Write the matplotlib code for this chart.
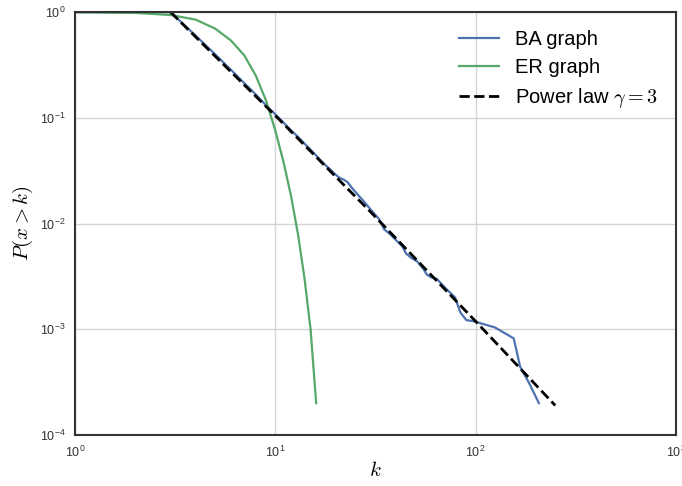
import matplotlib
matplotlib.use("Agg")
import matplotlib.pyplot as plt

plt.rcParams['font.family'] = ['Liberation Sans', 'DejaVu Sans']
plt.rcParams['mathtext.fontset'] = 'cm'

# BA graph: P(x > k)
ba_k = [1, 2, 3, 4, 5, 6, 7, 8, 9, 10, 11, 12, 13, 14, 15, 16, 17, 18, 19, 20,
        21, 22, 23, 24, 26, 28, 30, 33, 35, 37, 40, 43, 45, 48, 51, 55, 57, 60,
        64, 70, 75, 79, 84, 90, 98, 125, 155, 167, 185, 207]
ba_p = [1.0, 1.0, 1.0, 0.60, 0.40, 0.285, 0.213, 0.166, 0.131, 0.108, 0.090,
        0.076, 0.066, 0.057, 0.050, 0.044, 0.039, 0.035, 0.032, 0.029, 0.027,
        0.026, 0.0245, 0.022, 0.0185, 0.0158, 0.0135, 0.0110, 0.0088, 0.0081,
        0.0070, 0.0061, 0.0052, 0.0047, 0.0044, 0.0037, 0.0033, 0.0031, 0.0030,
        0.0025, 0.0022, 0.0020, 0.00144, 0.00122, 0.00119, 0.00104, 0.00082,
        0.00044, 0.00031, 0.00020]

# ER graph
er_k = [1, 2, 3, 4, 5, 6, 7, 8, 9, 10, 11, 12, 13, 14, 15, 16]
er_p = [0.998, 0.983, 0.94, 0.85, 0.70, 0.54, 0.39, 0.25, 0.145, 0.076, 0.038,
        0.018, 0.0078, 0.0030, 0.0010, 0.0002]

# power law reference line
pl_k = [3, 10, 30, 100, 250]
pl_p = [1.0, 0.105, 0.0128, 0.00119, 0.00019]

fig = plt.figure(figsize=(6.82, 4.86), dpi=100)
ax = fig.add_axes([0.110, 0.105, 0.881, 0.870])

ax.plot(ba_k, ba_p, color='#4C72B0', lw=1.6, label='BA graph')
ax.plot(er_k, er_p, color='#55A868', lw=1.6, label='ER graph')
ax.plot(pl_k, pl_p, 'k--', lw=2, label=r'Power law $\gamma=3$')

ax.set_xscale('log')
ax.set_yscale('log')
ax.set_xlim(1, 1000)
ax.set_ylim(1e-4, 1)

ax.grid(True, which='major', color='#d5d5d5', lw=1)
ax.set_axisbelow(True)
ax.minorticks_off()
ax.tick_params(length=0, pad=7, labelsize=9, labelcolor='#333333')
for s in ax.spines.values():
    s.set_color('#333333')
    s.set_linewidth(1.5)

ax.set_xlabel(r'$k$', fontsize=15, labelpad=1)
ax.set_ylabel(r'$P(x>k)$', fontsize=15, labelpad=3)

ax.legend(loc='upper right', frameon=False, fontsize=14.5, handlelength=2.0,
          handletextpad=0.8, borderaxespad=0.5, labelspacing=0.45)

fig.savefig('out.png', dpi=100)
